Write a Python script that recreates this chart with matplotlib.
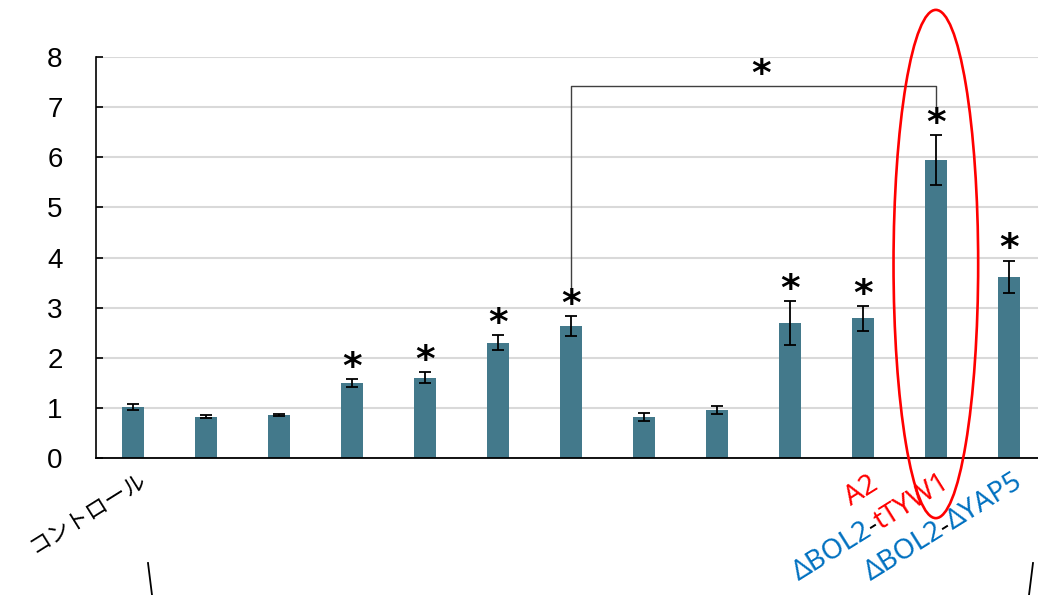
import numpy as np
import matplotlib
matplotlib.use("Agg")
import matplotlib.pyplot as plt
import matplotlib.transforms as mtransforms
from matplotlib.patches import Ellipse
from matplotlib.lines import Line2D
from matplotlib.font_manager import FontProperties

# Values
values = [1.02, 0.82, 0.86, 1.50, 1.60, 2.30, 2.64, 0.82, 0.96, 2.69, 2.79, 5.95, 3.62]
errors = [0.06, 0.03, 0.02, 0.08, 0.11, 0.15, 0.20, 0.08, 0.08, 0.44, 0.25, 0.50, 0.32]
significant = [0, 0, 0, 1, 1, 1, 1, 0, 0, 1, 1, 1, 1]
labels = ["コントロール", "", "", "", "", "", "", "", "", "", "", "ΔBOL2-tTYW1", "ΔBOL2-ΔYAP5"]
label_extra = {11: "A2"}   # second (upper) line of a label
yticks = [0, 1, 2, 3, 4, 5, 6, 7, 8]

# bracket comparing bar 7 with bar 12
bracket_left, bracket_right = 6, 11
bracket_top, bracket_left_low, bracket_right_low = 7.42, 3.35, 7.0

BAR = "#43798b"
BLUE = "#0070c0"
RED = "#ff0000"

fig = plt.figure(figsize=(10.38, 5.95), dpi=100)
ax = fig.add_axes([96 / 1038, 1 - 458 / 595, 1 - 96 / 1038, (458 - 57) / 595])
x = np.arange(len(values))

ax.bar(x, values, width=0.3, color=BAR, zorder=2)
ax.errorbar(x, values, yerr=errors, fmt="none", ecolor="black",
            elinewidth=1.3, capsize=4.3, capthick=1.3, zorder=3)

ax.set_xlim(-0.51, 12.4)
ax.set_ylim(0, 8)
ax.set_yticks(yticks)
ax.yaxis.grid(True, color="#d9d9d9", lw=1.5, zorder=0)
ax.set_axisbelow(True)
for s in ["top", "right"]:
    ax.spines[s].set_visible(False)
ax.spines["left"].set_linewidth(1.2)
ax.spines["bottom"].set_linewidth(1.3)
ax.tick_params(axis="y", direction="in", length=5, width=1.2, pad=24, labelsize=20)
ax.tick_params(axis="x", length=0)
ax.set_xticks([])
for t in ax.get_yticklabels():
    t.set_family("Liberation Sans")

# stars
def star(xd, yd):
    ax.annotate("*", (xd, yd), xytext=(0, 8), textcoords="offset points",
                ha="center", va="center", fontsize=27, fontweight="bold",
                color="black", annotation_clip=False, zorder=5)

for i in range(len(values)):
    if significant[i]:
        star(x[i], values[i] + errors[i])

ax.plot([bracket_left, bracket_left, bracket_right, bracket_right],
        [bracket_left_low, bracket_top, bracket_top, bracket_right_low],
        color="#404040", lw=1.0, clip_on=False, zorder=4)
star(8.6, bracket_top)

# rotated, multicoloured tick labels
renderer = fig.canvas.get_renderer()
theta = 32
u = np.array([np.cos(np.radians(theta)), np.sin(np.radians(theta))])
n = np.array([-u[1], u[0]])
fp_lat = FontProperties(family=["Noto Sans", "DejaVu Sans"], size=20)
fp_jp = FontProperties(family=["Noto Sans CJK JP", "DejaVu Sans"], size=16)


def width_pt(s, fp):
    t = ax.text(0, 0, s, fontproperties=fp)
    w = t.get_window_extent(renderer).width * 72 / fig.dpi
    t.remove()
    return w


def put(xd, s, off, color, fp, ha="left"):
    tr = mtransforms.offset_copy(ax.transData, fig=fig, x=off[0], y=off[1], units="points")
    ax.text(xd, 0, s, transform=tr, rotation=theta, rotation_mode="anchor",
            ha=ha, va="top", color=color, fontproperties=fp, clip_on=False)


end_off = np.array([3.0, -7.0])
for i, lab in enumerate(labels):
    if not lab:
        continue
    if not lab.startswith("Δ"):
        put(x[i], lab, end_off, "black", fp_jp, ha="right")
        continue
    left, right = lab.split("-", 1)
    parts = [(left, BLUE), ("-", "black"), (right, BLUE if right.startswith("Δ") else RED)]
    total = sum(width_pt(s, fp_lat) for s, _ in parts)
    start = end_off - total * u
    cum = 0.0
    for s, c in parts:
        put(x[i], s, start + cum * u, c, fp_lat)
        cum += width_pt(s, fp_lat)
    if i in label_extra:
        mid = end_off - (total / 2 - 8) * u + 26 * n
        put(x[i], label_extra[i], mid, RED, fp_lat, ha="center")

ax.add_patch(Ellipse((11, 3.87), 1.16, 10.14, fill=False, edgecolor="red",
                     lw=1.9, clip_on=False, zorder=10))

# edges of large brackets at the bottom of the slide
fig.add_artist(Line2D([148 / 1038, 152 / 1038], [1 - 563 / 595, 0], color="black", lw=1.3))
fig.add_artist(Line2D([1033 / 1038, 1029 / 1038], [1 - 563 / 595, 0], color="black", lw=1.3))

fig.savefig("out.png", dpi=100)
